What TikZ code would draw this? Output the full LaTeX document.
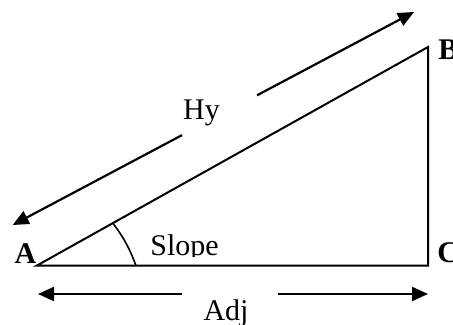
\documentclass[tikz,border=0pt]{standalone}
\usepackage{fontspec}
\setmainfont{Liberation Serif}
\usetikzlibrary{arrows.meta,calc}
\tikzset{
  side/.style={black, line width=1pt},
  dimarrow/.style={black, line width=1.1pt, -{Triangle[length=8pt,width=7pt]}},
  anglemark/.style={black, line width=0.8pt},
  vertexlabel/.style={font=\fontsize{15}{18}\selectfont\bfseries, inner sep=0pt, anchor=base},
  sidelabel/.style={font=\fontsize{15}{18}\selectfont, inner sep=0pt, anchor=base}
}

\begin{document}
\begin{tikzpicture}[x=0.5pt, y=-0.5pt]
  \useasboundingbox (0,0) rectangle (453,325);
  % vertices
  \coordinate (A) at (37,265.5);
  \coordinate (B) at (428,47);
  \coordinate (C) at (428,265.5);
  \draw[side, line join=miter] (A) -- (B) -- (C) -- cycle;
  \node[vertexlabel] (lblA) at (25.5,263) {A};
  \node[vertexlabel, anchor=base west] (lblB) at (438,60) {B};
  \node[vertexlabel, anchor=base west] (lblC) at (437,262) {C};
  % angle at A
  \coordinate (arcTop) at ($(A)!0.194!(B)$);
  \coordinate (arcBot) at ($(A)!0.253!(C)$);
  \draw[anglemark] (arcTop) to[bend left=8] (arcBot);
  \begin{scope}
    \clip (0,0) rectangle (453,256);
    \node[sidelabel, anchor=base west] (slope) at (150,255) {Slope};
  \end{scope}
  % hypotenuse arrow
  \coordinate (hyS) at (12.7,225);
  \coordinate (hyE) at (414,12);
  \coordinate (hyGapA) at ($(hyS)!0.422!(hyE)$);
  \coordinate (hyGapB) at ($(hyS)!0.609!(hyE)$);
  \draw[dimarrow] (hyGapA) -- (hyS);
  \draw[dimarrow] (hyGapB) -- (hyE);
  \node[sidelabel] (hy) at (201.5,120) {Hy};
  % adjacent arrow
  \coordinate (adjS) at (38,294);
  \coordinate (adjE) at (428,294);
  \coordinate (adjGapA) at (182,294);
  \coordinate (adjGapB) at (278,294);
  \draw[dimarrow] (adjGapA) -- (adjS);
  \draw[dimarrow] (adjGapB) -- (adjE);
  \node[sidelabel] (adj) at (226,320) {Adj};
\end{tikzpicture}
\end{document}
